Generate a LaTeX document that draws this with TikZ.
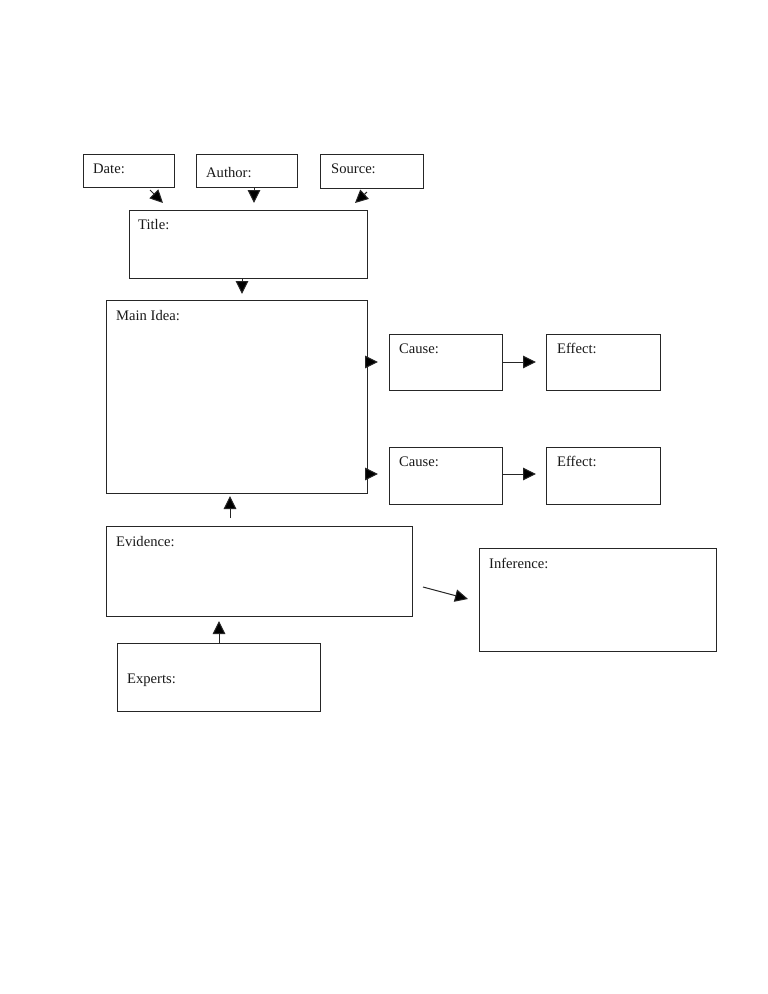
\documentclass[tikz,border=0pt]{standalone}
\usepackage{fontspec}
\setmainfont{Liberation Serif}
\usetikzlibrary{arrows.meta}
\begin{document}
\begin{tikzpicture}[x=1pt,y=-1pt,
  box/.style={draw=black!85, line width=1pt, rectangle, anchor=north west, inner sep=0pt, outer sep=0pt},
  lbl/.style={anchor=base west, inner sep=0pt, font=\fontsize{14.6}{16}\selectfont, text=black!90},
  arr/.style={draw=black!85, line width=1pt, -{Triangle[length=13pt,width=12.5pt,fill=black]}}]
\useasboundingbox[fill=white] (0,0) rectangle (768,994);
% boxes
\node[box, minimum width=91pt, minimum height=33pt] (date) at (83,154) {};
\node[box, minimum width=101pt, minimum height=33pt] (author) at (196,154) {};
\node[box, minimum width=103pt, minimum height=34pt] (source) at (320,154) {};
\node[box, minimum width=238pt, minimum height=68pt] (title) at (129,210) {};
\node[box, minimum width=261pt, minimum height=193pt] (main) at (106,300) {};
\node[box, minimum width=113pt, minimum height=56pt] (cause1) at (389,334) {};
\node[box, minimum width=114pt, minimum height=56pt] (effect1) at (546,334) {};
\node[box, minimum width=113pt, minimum height=57pt] (cause2) at (389,447) {};
\node[box, minimum width=114pt, minimum height=57pt] (effect2) at (546,447) {};
\node[box, minimum width=306pt, minimum height=90pt] (evid) at (106,526) {};
\node[box, minimum width=237pt, minimum height=103pt] (infer) at (479,548) {};
\node[box, minimum width=203pt, minimum height=68pt] (experts) at (117,643) {};
% labels
\node[lbl] (tdate) at (93,173) {Date:};
\node[lbl] (tauthor) at (206,177) {Author:};
\node[lbl] (tsource) at (331,173) {Source:};
\node[lbl] (ttitle) at (138,229) {Title:};
\node[lbl] (tmain) at (116,320) {Main Idea:};
\node[lbl] (tcause1) at (399,353) {Cause:};
\node[lbl] (teffect1) at (557,353) {Effect:};
\node[lbl] (tcause2) at (399,466) {Cause:};
\node[lbl] (teffect2) at (557,466) {Effect:};
\node[lbl] (tevid) at (116,546) {Evidence:};
\node[lbl] (tinfer) at (489,568) {Inference:};
\node[lbl] (texperts) at (127,683) {Experts:};
% arrow end points
\coordinate (da) at (150,190); \coordinate (db) at (163,203);
\coordinate (aa) at (254,187); \coordinate (ab) at (254,203);
\coordinate (sa) at (367,192); \coordinate (sb) at (355,203);
\coordinate (ta) at (242,278); \coordinate (tb) at (242,294);
\coordinate (m1a) at (365,362); \coordinate (m1b) at (378,362);
\coordinate (m2a) at (365,474); \coordinate (m2b) at (378,474);
\coordinate (c1a) at (502,362); \coordinate (c1b) at (536,362);
\coordinate (c2a) at (502,474); \coordinate (c2b) at (536,474);
\coordinate (ea) at (230,518); \coordinate (eb) at (230,496);
\coordinate (xa) at (219,643); \coordinate (xb) at (219,621);
\coordinate (ia) at (423,587); \coordinate (ib) at (468,599);
% arrows
\draw[arr] (da) -- (db);
\draw[arr] (aa) -- (ab);
\draw[arr] (sa) -- (sb);
\draw[arr] (ta) -- (tb);
\draw[arr] (m1a) -- (m1b);
\draw[arr] (m2a) -- (m2b);
\draw[arr] (c1a) -- (c1b);
\draw[arr] (c2a) -- (c2b);
\draw[arr] (ea) -- (eb);
\draw[arr] (xa) -- (xb);
\draw[arr] (ia) -- (ib);
\end{tikzpicture}
\end{document}
